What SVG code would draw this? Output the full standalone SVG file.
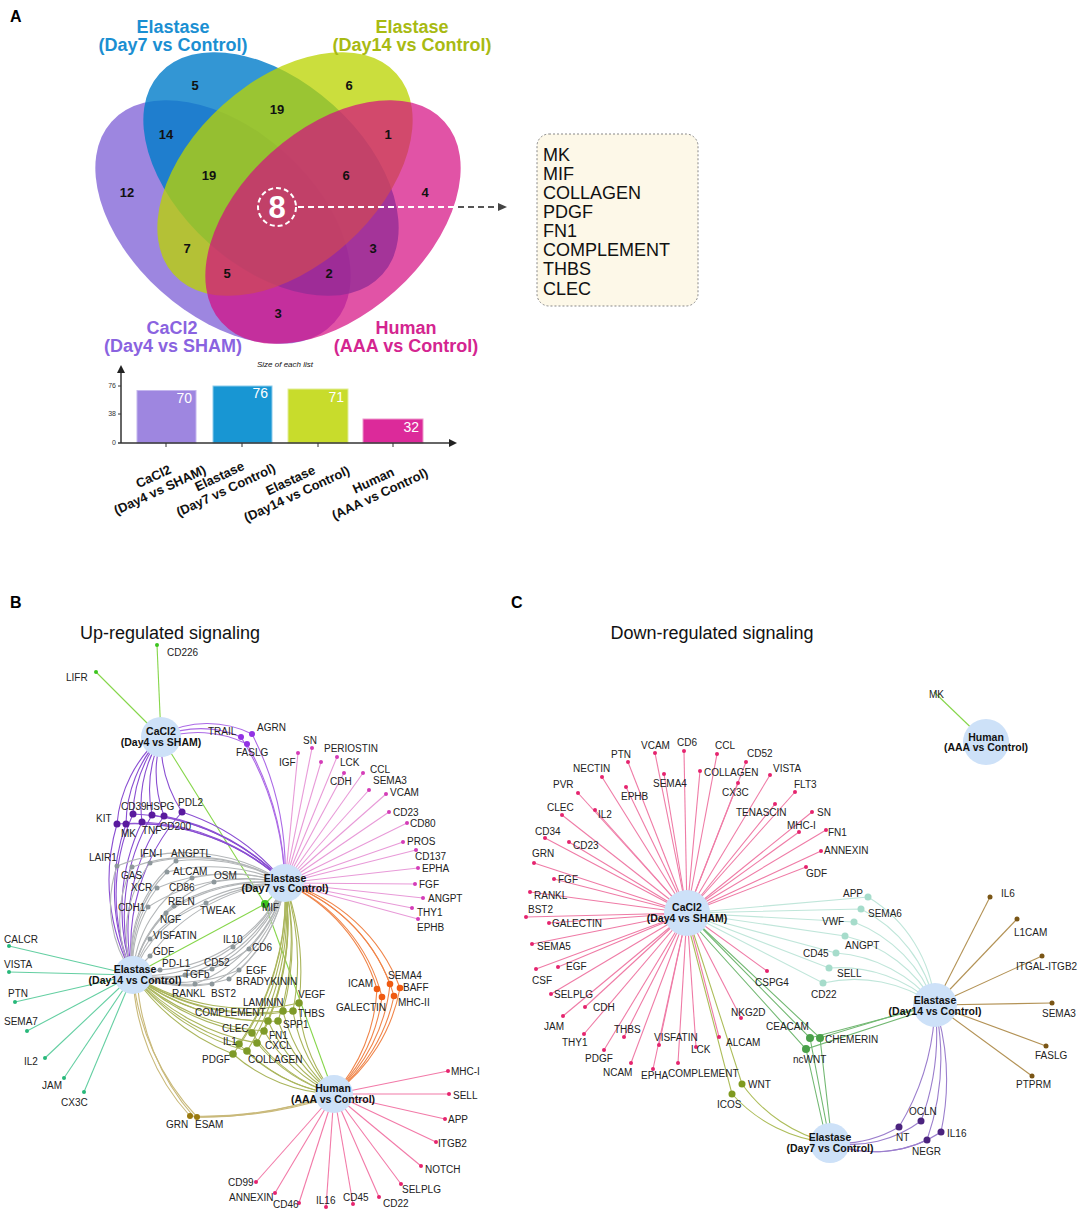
<svg xmlns="http://www.w3.org/2000/svg" width="1084" height="1212" viewBox="0 0 1084 1212">
<defs>
<style>
text{font-family:"Liberation Sans",Arial,Helvetica,sans-serif;font-size:10px;fill:#222}
.pl{font-weight:bold;font-size:16px;fill:#000}
.ttl{font-size:18px;fill:#111;text-anchor:middle}
.vt{font-weight:bold;font-size:18px;text-anchor:middle}
.vt-b{fill:#1b8fd2}.vt-y{fill:#a8ba12}.vt-p{fill:#8a63e0}.vt-m{fill:#d42590}
.vn{font-weight:bold;font-size:13px;text-anchor:middle;fill:#111}
.nl{font-weight:bold;font-size:10.5px;text-anchor:middle;fill:#111}
.bx{font-size:18px;fill:#111}
.bv{font-size:14px;fill:#fff;text-anchor:end}
.bl{font-weight:bold;font-size:13px;text-anchor:middle;fill:#111}
.ax{font-size:7px;fill:#333;text-anchor:end}
.hub{fill:#cde1f8}
#edges path,#edges line{fill:none;stroke-width:1.1}
.e-gr{stroke:#86d64a}.e-pu{stroke:#ac6ae6}.e-pd{stroke:#8a4ed2}.e-gy{stroke:#b3b6b8}.e-pk{stroke:#e89ad8}
.e-ol{stroke:#aab55c}.e-or{stroke:#f0854a}.e-tl{stroke:#64cfa2}.e-gb{stroke:#c9b97a}.e-hp{stroke:#f27aa8}
.e-cp{stroke:#ef7ba6}.e-ct{stroke:#c0e6da}.e-cg{stroke:#72b872}.e-co{stroke:#adbd5a}.e-cv{stroke:#9b7ecd}.e-cb{stroke:#b39255}
.d-gr{fill:#3cc41e}.d-pu{fill:#9232e4}.d-pd{fill:#5a1a9e}.d-gy{fill:#8d979b}.d-pk{fill:#d43cb8}.d-ol{fill:#7e9a28}
.d-or{fill:#ef5a12}.d-tl{fill:#27b87a}.d-gb{fill:#9a7a10}.d-hp{fill:#e6246e}.d-cp{fill:#e5246e}.d-ct{fill:#a6dccb}
.d-cg{fill:#4aa04a}.d-co{fill:#7f9a1e}.d-cv{fill:#4b237e}.d-cb{fill:#7a5616}
</style>
</defs>
<rect width="1084" height="1212" fill="#fff"/>

<!-- ================= PANEL A ================= -->
<text class="pl" x="10" y="22">A</text>
<g id="venn">
<ellipse cx="223" cy="222" rx="150" ry="93" transform="rotate(42 223 222)" fill="#8468d8" fill-opacity="0.8"/>
<ellipse cx="271" cy="174" rx="150" ry="93" transform="rotate(42 271 174)" fill="#007cc9" fill-opacity="0.8"/>
<ellipse cx="285" cy="174" rx="150" ry="93" transform="rotate(-42 285 174)" fill="#bad300" fill-opacity="0.76"/>
<ellipse cx="333" cy="222" rx="150" ry="93" transform="rotate(-42 333 222)" fill="#d40a80" fill-opacity="0.7"/>
</g>
<g id="venn-titles">
<text class="vt vt-b" x="173" y="33">Elastase</text>
<text class="vt vt-b" x="173" y="51">(Day7 vs Control)</text>
<text class="vt vt-y" x="412" y="33">Elastase</text>
<text class="vt vt-y" x="412" y="51">(Day14 vs Control)</text>
<text class="vt vt-p" x="172" y="334">CaCl2</text>
<text class="vt vt-p" x="173" y="352">(Day4 vs SHAM)</text>
<text class="vt vt-m" x="406" y="334">Human</text>
<text class="vt vt-m" x="406" y="352">(AAA vs Control)</text>
</g>
<g id="venn-counts">
<text class="vn" x="195" y="90">5</text>
<text class="vn" x="349" y="90">6</text>
<text class="vn" x="277" y="114">19</text>
<text class="vn" x="166" y="139">14</text>
<text class="vn" x="388" y="139">1</text>
<text class="vn" x="127" y="197">12</text>
<text class="vn" x="209" y="180">19</text>
<text class="vn" x="346" y="180">6</text>
<text class="vn" x="425" y="197">4</text>
<text class="vn" x="187" y="253">7</text>
<text class="vn" x="373" y="253">3</text>
<text class="vn" x="227" y="278">5</text>
<text class="vn" x="329" y="278">2</text>
<text class="vn" x="278" y="318">3</text>
</g>
<g id="venn-core">
<circle cx="277" cy="207" r="19" fill="none" stroke="#fff" stroke-width="2" stroke-dasharray="5 3"/>
<text x="277" y="218" text-anchor="middle" style="font-size:31px;font-weight:bold;fill:#fff">8</text>
<line x1="298" y1="207" x2="456" y2="207" stroke="#fff" stroke-width="2" stroke-dasharray="6 4"/>
<line x1="458" y1="207" x2="500" y2="207" stroke="#555" stroke-width="2" stroke-dasharray="6 4"/>
<polygon points="498,203 507,207 498,211" fill="#444"/>
</g>
<g id="core-list">
<rect x="537" y="134" width="161" height="172" rx="12" fill="#fdf8e8" stroke="#888" stroke-width="1" stroke-dasharray="2 2"/>
<text class="bx" x="543" y="161">MK</text>
<text class="bx" x="543" y="180">MIF</text>
<text class="bx" x="543" y="199">COLLAGEN</text>
<text class="bx" x="543" y="218">PDGF</text>
<text class="bx" x="543" y="237">FN1</text>
<text class="bx" x="543" y="256">COMPLEMENT</text>
<text class="bx" x="543" y="275">THBS</text>
<text class="bx" x="543" y="295">CLEC</text>
</g>
<g id="barchart">
<text x="285" y="367" text-anchor="middle" style="font-size:8px;font-style:italic;fill:#111">Size of each list</text>
<rect x="137" y="390.5" width="59" height="52.5" fill="#9e86e0" stroke="#c4b6ee" stroke-width="1"/>
<rect x="213" y="386" width="59" height="57" fill="#1896d3" stroke="#8ccbeb" stroke-width="1"/>
<rect x="288" y="389" width="60" height="54" fill="#c8dc2c" stroke="#e2ee98" stroke-width="1"/>
<rect x="363" y="419" width="60" height="24" fill="#dc2a9a" stroke="#ee98cc" stroke-width="1"/>
<text class="bv" x="192" y="403">70</text>
<text class="bv" x="268" y="398">76</text>
<text class="bv" x="344" y="402">71</text>
<text class="bv" x="419" y="432">32</text>
<line x1="121" y1="443" x2="121" y2="372" stroke="#333" stroke-width="1.5"/>
<polygon points="117,373 121,365 125,373" fill="#222"/>
<line x1="118" y1="443" x2="450" y2="443" stroke="#333" stroke-width="1.5"/>
<polygon points="449,439 457,443 449,447" fill="#222"/>
<line x1="118" y1="386" x2="121" y2="386" stroke="#333"/>
<line x1="118" y1="414" x2="121" y2="414" stroke="#333"/>
<line x1="166" y1="443" x2="166" y2="447" stroke="#333"/>
<line x1="242" y1="443" x2="242" y2="447" stroke="#333"/>
<line x1="318" y1="443" x2="318" y2="447" stroke="#333"/>
<line x1="393" y1="443" x2="393" y2="447" stroke="#333"/>
<text class="ax" x="116" y="388">76</text>
<text class="ax" x="116" y="416">38</text>
<text class="ax" x="116" y="445">0</text>
<g transform="translate(157,484) rotate(-25)"><text class="bl" x="0" y="-4">CaCl2</text><text class="bl" x="0" y="11">(Day4 vs SHAM)</text></g>
<g transform="translate(223,484) rotate(-25)"><text class="bl" x="0" y="-4">Elastase</text><text class="bl" x="0" y="11">(Day7 vs Control)</text></g>
<g transform="translate(294,488) rotate(-25)"><text class="bl" x="0" y="-4">Elastase</text><text class="bl" x="0" y="11">(Day14 vs Control)</text></g>
<g transform="translate(377,488) rotate(-25)"><text class="bl" x="0" y="-4">Human</text><text class="bl" x="0" y="11">(AAA vs Control)</text></g>
</g>

<!-- ================= PANEL B / C titles ================= -->
<text class="pl" x="10" y="608">B</text>
<text class="pl" x="511" y="608">C</text>
<text class="ttl" x="170" y="639">Up-regulated signaling</text>
<text class="ttl" x="712" y="639">Down-regulated signaling</text>

<!-- ================= CONNECTORS ================= -->
<g id="edges">
<!-- B green -->
<line class="e-gr" x1="161" y1="737" x2="157" y2="645"/>
<line class="e-gr" x1="161" y1="737" x2="96" y2="672"/>
<line class="e-gr" x1="161" y1="737" x2="265" y2="904"/>
<line class="e-gr" x1="265" y1="904" x2="334" y2="1094"/>
<line class="e-gr" x1="133" y1="975" x2="265" y2="904"/>
<line class="e-gr" x1="265" y1="904" x2="285" y2="883"/>
<!-- B purple light (CaCl2-Day7) -->
<path class="e-pu" d="M161 737A100 100 0 0 1 241 737M241 737A300 300 0 0 1 285 883"/>
<path class="e-pu" d="M161 735A100 100 0 0 1 252 734M252 734A300 300 0 0 1 285 883"/>
<path class="e-pu" d="M161 739A110 110 0 0 1 247 744M247 744A300 300 0 0 1 285 883"/>
<!-- B purple dark (CaCl2-Day14-Day7) -->
<path class="e-pd" d="M161 737A130 130 0 0 0 117 824M117 824A200 200 0 0 0 133 975M117 824A220 220 0 0 1 285 883"/>
<path class="e-pd" d="M161 737A130 130 0 0 0 126 824M126 824A200 200 0 0 0 133 975M126 824A220 220 0 0 1 285 883"/>
<path class="e-pd" d="M161 737A130 130 0 0 0 133 814M133 814A200 200 0 0 0 133 975M133 814A220 220 0 0 1 285 883"/>
<path class="e-pd" d="M161 737A130 130 0 0 0 142 822M142 822A200 200 0 0 0 133 975M142 822A220 220 0 0 1 285 883"/>
<path class="e-pd" d="M161 737A130 130 0 0 0 152 815M152 815A200 200 0 0 0 133 975M152 815A220 220 0 0 1 285 883"/>
<path class="e-pd" d="M161 737A130 130 0 0 0 164 816M164 816A200 200 0 0 0 133 975M164 816A220 220 0 0 1 285 883"/>
<path class="e-pd" d="M161 737A130 130 0 0 0 182 812M182 812A200 200 0 0 0 133 975M182 812A220 220 0 0 1 285 883"/>
<!-- B gray upper -->
<path class="e-gy" d="M133 975A120 120 0 0 1 117 866A180 180 0 0 1 285 883"/>
<path class="e-gy" d="M133 975A120 120 0 0 1 132 867A180 180 0 0 1 285 883"/>
<path class="e-gy" d="M133 975A120 120 0 0 1 150 863A180 180 0 0 1 285 883"/>
<path class="e-gy" d="M133 975A120 120 0 0 1 176 861A180 180 0 0 1 285 883"/>
<path class="e-gy" d="M133 975A120 120 0 0 1 167 872A180 180 0 0 1 285 883"/>
<path class="e-gy" d="M133 975A120 120 0 0 1 214 882A180 180 0 0 1 285 883"/>
<path class="e-gy" d="M133 975A120 120 0 0 1 157 888A180 180 0 0 1 285 883"/>
<path class="e-gy" d="M133 975A120 120 0 0 1 192 878A180 180 0 0 1 285 883"/>
<path class="e-gy" d="M133 975A120 120 0 0 1 148 907A180 180 0 0 1 285 883"/>
<path class="e-gy" d="M133 975A120 120 0 0 1 174 906A180 180 0 0 1 285 883"/>
<path class="e-gy" d="M133 975A120 120 0 0 1 166 913A180 180 0 0 1 285 883"/>
<path class="e-gy" d="M133 975A120 120 0 0 1 206 903A180 180 0 0 1 285 883"/>
<path class="e-gy" d="M133 975A120 120 0 0 1 150 939A180 180 0 0 1 285 883"/>
<path class="e-gy" d="M133 975A120 120 0 0 1 150 956A180 180 0 0 1 285 883"/>
<!-- B gray lower -->
<path class="e-gy" d="M133 975A150 150 0 0 0 160 970A150 150 0 0 0 285 883"/>
<path class="e-gy" d="M133 975A150 150 0 0 0 185 975A150 150 0 0 0 285 883"/>
<path class="e-gy" d="M133 975A150 150 0 0 0 212 969A150 150 0 0 0 285 883"/>
<path class="e-gy" d="M133 975A150 150 0 0 0 233 947A150 150 0 0 0 285 883"/>
<path class="e-gy" d="M133 975A150 150 0 0 0 249 949A150 150 0 0 0 285 883"/>
<path class="e-gy" d="M133 975A150 150 0 0 0 239 970A150 150 0 0 0 285 883"/>
<path class="e-gy" d="M133 975A150 150 0 0 0 229 979A150 150 0 0 0 285 883"/>
<path class="e-gy" d="M133 975A150 150 0 0 0 195 984A150 150 0 0 0 285 883"/>
<path class="e-gy" d="M133 975A150 150 0 0 0 212 984A150 150 0 0 0 285 883"/>
<!-- B olive (Day14, Day7, Human) -->
<path class="e-ol" d="M133 975A220 220 0 0 0 299 1003M285 883A260 260 0 0 1 299 1003M299 1003A160 160 0 0 0 334 1094"/>
<path class="e-ol" d="M133 975A220 220 0 0 0 283 1011M285 883A260 260 0 0 1 283 1011M283 1011A160 160 0 0 0 334 1094"/>
<path class="e-ol" d="M133 975A220 220 0 0 0 293 1011M285 883A260 260 0 0 1 293 1011M293 1011A160 160 0 0 0 334 1094"/>
<path class="e-ol" d="M133 975A220 220 0 0 0 268 1021M285 883A260 260 0 0 1 268 1021M268 1021A160 160 0 0 0 334 1094"/>
<path class="e-ol" d="M133 975A220 220 0 0 0 278 1021M285 883A260 260 0 0 1 278 1021M278 1021A160 160 0 0 0 334 1094"/>
<path class="e-ol" d="M133 975A220 220 0 0 0 252 1033M285 883A260 260 0 0 1 252 1033M252 1033A160 160 0 0 0 334 1094"/>
<path class="e-ol" d="M133 975A220 220 0 0 0 264 1031M285 883A260 260 0 0 1 264 1031M264 1031A160 160 0 0 0 334 1094"/>
<path class="e-ol" d="M133 975A220 220 0 0 0 239 1044M285 883A260 260 0 0 1 239 1044M239 1044A160 160 0 0 0 334 1094"/>
<path class="e-ol" d="M133 975A220 220 0 0 0 257 1043M285 883A260 260 0 0 1 257 1043M257 1043A160 160 0 0 0 334 1094"/>
<path class="e-ol" d="M133 975A220 220 0 0 0 233 1054M285 883A260 260 0 0 1 233 1054M233 1054A160 160 0 0 0 334 1094"/>
<path class="e-ol" d="M133 975A220 220 0 0 0 247 1051M285 883A260 260 0 0 1 247 1051M247 1051A160 160 0 0 0 334 1094"/>
<!-- B orange -->
<path class="e-or" d="M285 883A170 170 0 0 1 377 989A170 170 0 0 1 334 1094"/>
<path class="e-or" d="M285 883A170 170 0 0 1 390 984A170 170 0 0 1 334 1094"/>
<path class="e-or" d="M285 883A170 170 0 0 1 400 988A170 170 0 0 1 334 1094"/>
<path class="e-or" d="M285 883A170 170 0 0 1 382 997A170 170 0 0 1 334 1094"/>
<path class="e-or" d="M285 883A170 170 0 0 1 394 996A170 170 0 0 1 334 1094"/>
<!-- B GRN/ESAM -->
<path class="e-gb" d="M133 975A220 220 0 0 0 190 1116A400 400 0 0 0 334 1094"/>
<path class="e-gb" d="M133 975A240 240 0 0 0 197 1117A400 400 0 0 0 334 1094"/>
<path class="e-gb" d="M137 977A230 230 0 0 0 194 1117A420 420 0 0 0 334 1096"/>
<!-- B pink Day7 leaves -->
<line class="e-pk" x1="285" y1="883" x2="298" y2="753"/>
<line class="e-pk" x1="285" y1="883" x2="312" y2="748"/>
<line class="e-pk" x1="285" y1="883" x2="321" y2="762"/>
<line class="e-pk" x1="285" y1="883" x2="337" y2="757"/>
<line class="e-pk" x1="285" y1="883" x2="344" y2="773"/>
<line class="e-pk" x1="285" y1="883" x2="363" y2="773"/>
<line class="e-pk" x1="285" y1="883" x2="369" y2="790"/>
<line class="e-pk" x1="285" y1="883" x2="386" y2="794"/>
<line class="e-pk" x1="285" y1="883" x2="389" y2="812"/>
<line class="e-pk" x1="285" y1="883" x2="407" y2="823"/>
<line class="e-pk" x1="285" y1="883" x2="403" y2="842"/>
<line class="e-pk" x1="285" y1="883" x2="416" y2="850"/>
<line class="e-pk" x1="285" y1="883" x2="418" y2="868"/>
<line class="e-pk" x1="285" y1="883" x2="415" y2="884"/>
<line class="e-pk" x1="285" y1="883" x2="423" y2="898"/>
<line class="e-pk" x1="285" y1="883" x2="412" y2="908"/>
<line class="e-pk" x1="285" y1="883" x2="418" y2="919"/>
<!-- B teal Day14 leaves -->
<line class="e-tl" x1="133" y1="975" x2="9" y2="946"/>
<line class="e-tl" x1="133" y1="975" x2="9" y2="972"/>
<line class="e-tl" x1="133" y1="975" x2="15" y2="1002"/>
<line class="e-tl" x1="133" y1="975" x2="27" y2="1031"/>
<line class="e-tl" x1="133" y1="975" x2="45" y2="1058"/>
<line class="e-tl" x1="133" y1="975" x2="64" y2="1078"/>
<line class="e-tl" x1="133" y1="975" x2="84" y2="1092"/>
<!-- B pink Human leaves -->
<line class="e-hp" x1="334" y1="1094" x2="448" y2="1071"/>
<line class="e-hp" x1="334" y1="1094" x2="449" y2="1094"/>
<line class="e-hp" x1="334" y1="1094" x2="445" y2="1119"/>
<line class="e-hp" x1="334" y1="1094" x2="436" y2="1142"/>
<line class="e-hp" x1="334" y1="1094" x2="421" y2="1166"/>
<line class="e-hp" x1="334" y1="1094" x2="401" y2="1184"/>
<line class="e-hp" x1="334" y1="1094" x2="379" y2="1197"/>
<line class="e-hp" x1="334" y1="1094" x2="353" y2="1204"/>
<line class="e-hp" x1="334" y1="1094" x2="326" y2="1207"/>
<line class="e-hp" x1="334" y1="1094" x2="299" y2="1203"/>
<line class="e-hp" x1="334" y1="1094" x2="275" y2="1193"/>
<line class="e-hp" x1="334" y1="1094" x2="256" y2="1182"/>

<!-- C pink CaCl2 leaves -->
<line class="e-cp" x1="687" y1="913" x2="655" y2="753"/>
<line class="e-cp" x1="687" y1="913" x2="684" y2="751"/>
<line class="e-cp" x1="687" y1="913" x2="717" y2="754"/>
<line class="e-cp" x1="687" y1="913" x2="746" y2="762"/>
<line class="e-cp" x1="687" y1="913" x2="628" y2="762"/>
<line class="e-cp" x1="687" y1="913" x2="602" y2="777"/>
<line class="e-cp" x1="687" y1="913" x2="664" y2="774"/>
<line class="e-cp" x1="687" y1="913" x2="700" y2="771"/>
<line class="e-cp" x1="687" y1="913" x2="770" y2="775"/>
<line class="e-cp" x1="687" y1="913" x2="578" y2="793"/>
<line class="e-cp" x1="687" y1="913" x2="626" y2="787"/>
<line class="e-cp" x1="687" y1="913" x2="738" y2="783"/>
<line class="e-cp" x1="687" y1="913" x2="795" y2="792"/>
<line class="e-cp" x1="687" y1="913" x2="562" y2="815"/>
<line class="e-cp" x1="687" y1="913" x2="595" y2="810"/>
<line class="e-cp" x1="687" y1="913" x2="775" y2="804"/>
<line class="e-cp" x1="687" y1="913" x2="812" y2="812"/>
<line class="e-cp" x1="687" y1="913" x2="799" y2="832"/>
<line class="e-cp" x1="687" y1="913" x2="826" y2="830"/>
<line class="e-cp" x1="687" y1="913" x2="821" y2="851"/>
<line class="e-cp" x1="687" y1="913" x2="806" y2="867"/>
<line class="e-cp" x1="687" y1="913" x2="545" y2="838"/>
<line class="e-cp" x1="687" y1="913" x2="569" y2="842"/>
<line class="e-cp" x1="687" y1="913" x2="534" y2="863"/>
<line class="e-cp" x1="687" y1="913" x2="554" y2="879"/>
<line class="e-cp" x1="687" y1="913" x2="530" y2="892"/>
<line class="e-cp" x1="687" y1="913" x2="526" y2="917"/>
<line class="e-cp" x1="687" y1="913" x2="549" y2="923"/>
<line class="e-cp" x1="687" y1="913" x2="532" y2="944"/>
<line class="e-cp" x1="687" y1="913" x2="558" y2="967"/>
<line class="e-cp" x1="687" y1="913" x2="536" y2="969"/>
<line class="e-cp" x1="687" y1="913" x2="767" y2="971"/>
<line class="e-cp" x1="687" y1="913" x2="551" y2="994"/>
<line class="e-cp" x1="687" y1="913" x2="585" y2="1007"/>
<line class="e-cp" x1="687" y1="913" x2="563" y2="1016"/>
<line class="e-cp" x1="687" y1="913" x2="584" y2="1034"/>
<line class="e-cp" x1="687" y1="913" x2="624" y2="1037"/>
<line class="e-cp" x1="687" y1="913" x2="604" y2="1050"/>
<line class="e-cp" x1="687" y1="913" x2="659" y2="1045"/>
<line class="e-cp" x1="687" y1="913" x2="696" y2="1047"/>
<line class="e-cp" x1="687" y1="913" x2="719" y2="1037"/>
<line class="e-cp" x1="687" y1="913" x2="741" y2="1018"/>
<line class="e-cp" x1="687" y1="913" x2="631" y2="1063"/>
<line class="e-cp" x1="687" y1="913" x2="653" y2="1069"/>
<line class="e-cp" x1="687" y1="913" x2="678" y2="1063"/>
<!-- C teal -->
<path class="e-ct" d="M687 913L868 897A140 140 0 0 1 935 1005"/>
<path class="e-ct" d="M687 913L861 909A140 140 0 0 1 935 1005"/>
<path class="e-ct" d="M687 913L854 922A140 140 0 0 1 935 1005"/>
<path class="e-ct" d="M687 913L845 936A140 140 0 0 1 935 1005"/>
<path class="e-ct" d="M687 913L836 953A140 140 0 0 1 935 1005"/>
<path class="e-ct" d="M687 913L829 968A140 140 0 0 1 935 1005"/>
<path class="e-ct" d="M687 913L823 983A140 140 0 0 1 935 1005"/>
<!-- C green -->
<path class="e-cg" d="M687 913L810 1038L935 1005M810 1038L830 1143"/>
<path class="e-cg" d="M689 915L820 1038L935 1003M820 1038L832 1143"/>
<path class="e-cg" d="M685 915L806 1049L935 1007M806 1049L827 1143"/>
<!-- C olive -->
<path class="e-co" d="M687 913L742 1084A150 150 0 0 0 830 1143"/>
<path class="e-co" d="M685 913L732 1094A150 150 0 0 0 830 1143"/>
<!-- C violet -->
<path class="e-cv" d="M935 1005A250 250 0 0 1 921 1121A120 120 0 0 1 830 1143"/>
<path class="e-cv" d="M935 1005A250 250 0 0 1 899 1127A120 120 0 0 1 830 1143"/>
<path class="e-cv" d="M935 1005A250 250 0 0 1 941 1132A120 120 0 0 1 830 1143"/>
<path class="e-cv" d="M935 1005A250 250 0 0 1 927 1140A120 120 0 0 1 830 1143"/>
<!-- C brown -->
<line class="e-cb" x1="935" y1="1005" x2="990" y2="897"/>
<line class="e-cb" x1="935" y1="1005" x2="1017" y2="919"/>
<line class="e-cb" x1="935" y1="1005" x2="1042" y2="956"/>
<line class="e-cb" x1="935" y1="1005" x2="1052" y2="1003"/>
<line class="e-cb" x1="935" y1="1005" x2="1046" y2="1046"/>
<line class="e-cb" x1="935" y1="1005" x2="1032" y2="1076"/>
<!-- C human MK -->
<line class="e-gr" x1="986" y1="742" x2="934" y2="692"/>
</g>

<!-- ================= PANEL B NODES ================= -->
<g id="b-cacl2"><circle class="hub" cx="161" cy="737" r="20"/><text class="nl" x="161" y="735">CaCl2</text><text class="nl" x="161" y="746">(Day4 vs SHAM)</text></g>
<g id="b-day7"><circle class="hub" cx="285" cy="883" r="19"/><text class="nl" x="285" y="882">Elastase</text><text class="nl" x="285" y="892">(Day7 vs Control)</text></g>
<g id="b-day14"><circle class="hub" cx="133" cy="975" r="19"/><text class="nl" x="135" y="973">Elastase</text><text class="nl" x="135" y="984">(Day14 vs Control)</text></g>
<g id="b-human"><circle class="hub" cx="334" cy="1094" r="19"/><text class="nl" x="333" y="1092">Human</text><text class="nl" x="333" y="1103">(AAA vs Control)</text></g>

<g id="b-green">
<g id="b-cd226"><circle class="d-gr" cx="157" cy="645" r="2"/><text x="167" y="656">CD226</text></g>
<g id="b-lifr"><circle class="d-gr" cx="96" cy="672" r="2"/><text x="66" y="681">LIFR</text></g>
<g id="b-mif"><circle class="d-gr" cx="265" cy="904" r="4"/><text x="262" y="911">MIF</text></g>
</g>
<g id="b-purple">
<g id="b-trail"><circle class="d-pu" cx="241" cy="737" r="3"/><text x="208" y="735">TRAIL</text></g>
<g id="b-agrn"><circle class="d-pu" cx="252" cy="734" r="3"/><text x="257" y="731">AGRN</text></g>
<g id="b-faslg"><circle class="d-pu" cx="247" cy="744" r="3"/><text x="236" y="756">FASLG</text></g>
<g id="b-kit"><circle class="d-pd" cx="117" cy="824" r="3.5"/><text x="96" y="822">KIT</text></g>
<g id="b-mk"><circle class="d-pd" cx="126" cy="824" r="3.5"/><text x="121" y="837">MK</text></g>
<g id="b-cd39"><circle class="d-pd" cx="133" cy="814" r="3.5"/><text x="121" y="810">CD39</text></g>
<g id="b-tnf"><circle class="d-pd" cx="142" cy="822" r="3.5"/><text x="142" y="834">TNF</text></g>
<g id="b-hspg"><circle class="d-pd" cx="152" cy="815" r="3.5"/><text x="146" y="810">HSPG</text></g>
<g id="b-cd200"><circle class="d-pd" cx="164" cy="816" r="3.5"/><text x="160" y="830">CD200</text></g>
<g id="b-pdl2"><circle class="d-pd" cx="182" cy="812" r="3.5"/><text x="178" y="806">PDL2</text></g>
</g>
<g id="b-gray">
<g id="b-lair1"><circle class="d-gy" cx="117" cy="866" r="2.5"/><text x="89" y="861">LAIR1</text></g>
<g id="b-gas"><circle class="d-gy" cx="132" cy="867" r="2.5"/><text x="121" y="879">GAS</text></g>
<g id="b-ifn"><circle class="d-gy" cx="150" cy="863" r="2.5"/><text x="140" y="857">IFN-I</text></g>
<g id="b-angptl"><circle class="d-gy" cx="176" cy="861" r="2.5"/><text x="171" y="857">ANGPTL</text></g>
<g id="b-alcam"><circle class="d-gy" cx="167" cy="872" r="2.5"/><text x="173" y="875">ALCAM</text></g>
<g id="b-osm"><circle class="d-gy" cx="214" cy="882" r="2.5"/><text x="214" y="879">OSM</text></g>
<g id="b-xcr"><circle class="d-gy" cx="157" cy="888" r="2.5"/><text x="131" y="891">XCR</text></g>
<g id="b-cd86"><circle class="d-gy" cx="192" cy="878" r="2.5"/><text x="169" y="891">CD86</text></g>
<g id="b-cdh1"><circle class="d-gy" cx="148" cy="907" r="2.5"/><text x="118" y="911">CDH1</text></g>
<g id="b-reln"><circle class="d-gy" cx="174" cy="906" r="2.5"/><text x="168" y="905">RELN</text></g>
<g id="b-ngf"><circle class="d-gy" cx="166" cy="913" r="2.5"/><text x="160" y="923">NGF</text></g>
<g id="b-tweak"><circle class="d-gy" cx="206" cy="903" r="2.5"/><text x="200" y="914">TWEAK</text></g>
<g id="b-visfatin"><circle class="d-gy" cx="150" cy="939" r="2.5"/><text x="153" y="939">VISFATIN</text></g>
<g id="b-gdf"><circle class="d-gy" cx="150" cy="956" r="2.5"/><text x="153" y="955">GDF</text></g>
<g id="b-il10"><circle class="d-gy" cx="233" cy="947" r="2.5"/><text x="223" y="943">IL10</text></g>
<g id="b-cd6"><circle class="d-gy" cx="249" cy="949" r="2.5"/><text x="252" y="951">CD6</text></g>
<g id="b-pdl1"><circle class="d-gy" cx="160" cy="970" r="2.5"/><text x="162" y="967">PD-L1</text></g>
<g id="b-cd52"><circle class="d-gy" cx="212" cy="969" r="2.5"/><text x="204" y="966">CD52</text></g>
<g id="b-tgfb"><circle class="d-gy" cx="185" cy="975" r="2.5"/><text x="184" y="978">TGFb</text></g>
<g id="b-egf"><circle class="d-gy" cx="239" cy="970" r="2.5"/><text x="246" y="974">EGF</text></g>
<g id="b-brady"><circle class="d-gy" cx="229" cy="979" r="2.5"/><text x="236" y="985">BRADYKININ</text></g>
<g id="b-rankl"><circle class="d-gy" cx="195" cy="984" r="2.5"/><text x="172" y="997">RANKL</text></g>
<g id="b-bst2"><circle class="d-gy" cx="212" cy="984" r="2.5"/><text x="211" y="997">BST2</text></g>
</g>
<g id="b-olive">
<g id="b-vegf"><circle class="d-ol" cx="299" cy="1003" r="3.8"/><text x="298" y="998">VEGF</text></g>
<g id="b-laminin"><circle class="d-ol" cx="283" cy="1011" r="3.8"/><text x="243" y="1006">LAMININ</text></g>
<g id="b-thbs"><circle class="d-ol" cx="293" cy="1011" r="3.8"/><text x="298" y="1017">THBS</text></g>
<g id="b-complement"><circle class="d-ol" cx="268" cy="1021" r="3.8"/><text x="195" y="1016">COMPLEMENT</text></g>
<g id="b-spp1"><circle class="d-ol" cx="278" cy="1021" r="3.8"/><text x="283" y="1028">SPP1</text></g>
<g id="b-clec"><circle class="d-ol" cx="252" cy="1033" r="3.8"/><text x="222" y="1032">CLEC</text></g>
<g id="b-fn1"><circle class="d-ol" cx="264" cy="1031" r="3.8"/><text x="269" y="1039">FN1</text></g>
<g id="b-il1"><circle class="d-ol" cx="239" cy="1044" r="3.8"/><text x="223" y="1045">IL1</text></g>
<g id="b-cxcl"><circle class="d-ol" cx="257" cy="1043" r="3.8"/><text x="265" y="1049">CXCL</text></g>
<g id="b-pdgf"><circle class="d-ol" cx="233" cy="1054" r="3.8"/><text x="202" y="1063">PDGF</text></g>
<g id="b-collagen"><circle class="d-ol" cx="247" cy="1051" r="3.8"/><text x="248" y="1063">COLLAGEN</text></g>
</g>
<g id="b-orange">
<g id="b-icam"><circle class="d-or" cx="377" cy="989" r="3.3"/><text x="348" y="987">ICAM</text></g>
<g id="b-sema4"><circle class="d-or" cx="390" cy="984" r="3.3"/><text x="388" y="979">SEMA4</text></g>
<g id="b-baff"><circle class="d-or" cx="400" cy="988" r="3.3"/><text x="403" y="991">BAFF</text></g>
<g id="b-galectin"><circle class="d-or" cx="382" cy="997" r="3.3"/><text x="336" y="1011">GALECTIN</text></g>
<g id="b-mhcii"><circle class="d-or" cx="394" cy="996" r="3.3"/><text x="398" y="1006">MHC-II</text></g>
</g>
<g id="b-tan">
<g id="b-grn"><circle class="d-gb" cx="190" cy="1116" r="3"/><text x="166" y="1128">GRN</text></g>
<g id="b-esam"><circle class="d-gb" cx="197" cy="1117" r="3"/><text x="195" y="1128">ESAM</text></g>
</g>
<g id="b-day7-leaves">
<g id="b-igf"><circle class="d-pk" cx="298" cy="753" r="2"/><text x="279" y="766">IGF</text></g>
<g id="b-sn"><circle class="d-pk" cx="312" cy="748" r="2"/><text x="303" y="744">SN</text></g>
<g id="b-periostin"><circle class="d-pk" cx="321" cy="762" r="2"/><text x="324" y="752">PERIOSTIN</text></g>
<g id="b-lck"><circle class="d-pk" cx="337" cy="757" r="2"/><text x="340" y="766">LCK</text></g>
<g id="b-cdh"><circle class="d-pk" cx="344" cy="773" r="2"/><text x="330" y="785">CDH</text></g>
<g id="b-ccl"><circle class="d-pk" cx="363" cy="773" r="2"/><text x="370" y="773">CCL</text></g>
<g id="b-sema3"><circle class="d-pk" cx="369" cy="790" r="2"/><text x="373" y="784">SEMA3</text></g>
<g id="b-vcam"><circle class="d-pk" cx="386" cy="794" r="2"/><text x="390" y="796">VCAM</text></g>
<g id="b-cd23"><circle class="d-pk" cx="389" cy="812" r="2"/><text x="393" y="816">CD23</text></g>
<g id="b-cd80"><circle class="d-pk" cx="407" cy="823" r="2"/><text x="410" y="827">CD80</text></g>
<g id="b-pros"><circle class="d-pk" cx="403" cy="842" r="2"/><text x="407" y="845">PROS</text></g>
<g id="b-cd137"><circle class="d-pk" cx="416" cy="850" r="2"/><text x="415" y="860">CD137</text></g>
<g id="b-epha"><circle class="d-pk" cx="418" cy="868" r="2"/><text x="422" y="872">EPHA</text></g>
<g id="b-fgf"><circle class="d-pk" cx="415" cy="884" r="2"/><text x="419" y="888">FGF</text></g>
<g id="b-angpt"><circle class="d-pk" cx="423" cy="898" r="2"/><text x="428" y="902">ANGPT</text></g>
<g id="b-thy1"><circle class="d-pk" cx="412" cy="908" r="2"/><text x="417" y="916">THY1</text></g>
<g id="b-ephb"><circle class="d-pk" cx="418" cy="919" r="2"/><text x="417" y="931">EPHB</text></g>
</g>
<g id="b-day14-leaves">
<g id="b-calcr"><circle class="d-tl" cx="9" cy="946" r="2"/><text x="4" y="943">CALCR</text></g>
<g id="b-vista"><circle class="d-tl" cx="9" cy="972" r="2"/><text x="4" y="968">VISTA</text></g>
<g id="b-ptn"><circle class="d-tl" cx="15" cy="1002" r="2"/><text x="8" y="997">PTN</text></g>
<g id="b-sema7"><circle class="d-tl" cx="27" cy="1031" r="2"/><text x="4" y="1025">SEMA7</text></g>
<g id="b-il2"><circle class="d-tl" cx="45" cy="1058" r="2"/><text x="24" y="1065">IL2</text></g>
<g id="b-jam"><circle class="d-tl" cx="64" cy="1078" r="2"/><text x="42" y="1089">JAM</text></g>
<g id="b-cx3c"><circle class="d-tl" cx="84" cy="1092" r="2"/><text x="61" y="1106">CX3C</text></g>
</g>
<g id="b-human-leaves">
<g id="b-mhci"><circle class="d-hp" cx="448" cy="1071" r="2"/><text x="451" y="1075">MHC-I</text></g>
<g id="b-sell"><circle class="d-hp" cx="449" cy="1094" r="2"/><text x="453" y="1099">SELL</text></g>
<g id="b-app"><circle class="d-hp" cx="445" cy="1119" r="2"/><text x="448" y="1123">APP</text></g>
<g id="b-itgb2"><circle class="d-hp" cx="436" cy="1142" r="2"/><text x="438" y="1147">ITGB2</text></g>
<g id="b-notch"><circle class="d-hp" cx="421" cy="1166" r="2"/><text x="425" y="1173">NOTCH</text></g>
<g id="b-selplg"><circle class="d-hp" cx="401" cy="1184" r="2"/><text x="402" y="1193">SELPLG</text></g>
<g id="b-cd22"><circle class="d-hp" cx="379" cy="1197" r="2"/><text x="383" y="1207">CD22</text></g>
<g id="b-cd45"><circle class="d-hp" cx="353" cy="1204" r="2"/><text x="343" y="1201">CD45</text></g>
<g id="b-il16"><circle class="d-hp" cx="326" cy="1207" r="2"/><text x="316" y="1204">IL16</text></g>
<g id="b-cd46"><circle class="d-hp" cx="299" cy="1203" r="2"/><text x="273" y="1208">CD46</text></g>
<g id="b-annexin"><circle class="d-hp" cx="275" cy="1193" r="2"/><text x="229" y="1201">ANNEXIN</text></g>
<g id="b-cd99"><circle class="d-hp" cx="256" cy="1182" r="2"/><text x="228" y="1186">CD99</text></g>
</g>

<!-- ================= PANEL C NODES ================= -->
<g id="c-cacl2"><circle class="hub" cx="687" cy="913" r="23"/><text class="nl" x="687" y="911">CaCl2</text><text class="nl" x="687" y="922">(Day4 vs SHAM)</text></g>
<g id="c-day14"><circle class="hub" cx="935" cy="1005" r="22"/><text class="nl" x="935" y="1004">Elastase</text><text class="nl" x="935" y="1015">(Day14 vs Control)</text></g>
<g id="c-day7"><circle class="hub" cx="830" cy="1143" r="20"/><text class="nl" x="830" y="1141">Elastase</text><text class="nl" x="830" y="1152">(Day7 vs Control)</text></g>
<g id="c-human"><circle class="hub" cx="986" cy="742" r="23"/><text class="nl" x="986" y="741">Human</text><text class="nl" x="986" y="751">(AAA vs Control)</text></g>

<g id="c-cacl2-leaves">
<g id="c-vcam"><circle class="d-cp" cx="655" cy="753" r="2"/><text x="641" y="749">VCAM</text></g>
<g id="c-cd6"><circle class="d-cp" cx="684" cy="751" r="2"/><text x="677" y="746">CD6</text></g>
<g id="c-ccl"><circle class="d-cp" cx="717" cy="754" r="2"/><text x="715" y="749">CCL</text></g>
<g id="c-cd52"><circle class="d-cp" cx="746" cy="762" r="2"/><text x="747" y="757">CD52</text></g>
<g id="c-ptn"><circle class="d-cp" cx="628" cy="762" r="2"/><text x="611" y="758">PTN</text></g>
<g id="c-nectin"><circle class="d-cp" cx="602" cy="777" r="2"/><text x="573" y="772">NECTIN</text></g>
<g id="c-sema4"><circle class="d-cp" cx="664" cy="774" r="2"/><text x="653" y="787">SEMA4</text></g>
<g id="c-collagen"><circle class="d-cp" cx="700" cy="771" r="2"/><text x="704" y="776">COLLAGEN</text></g>
<g id="c-vista"><circle class="d-cp" cx="770" cy="775" r="2"/><text x="773" y="772">VISTA</text></g>
<g id="c-pvr"><circle class="d-cp" cx="578" cy="793" r="2"/><text x="553" y="788">PVR</text></g>
<g id="c-ephb"><circle class="d-cp" cx="626" cy="787" r="2"/><text x="621" y="800">EPHB</text></g>
<g id="c-cx3c"><circle class="d-cp" cx="738" cy="783" r="2"/><text x="722" y="796">CX3C</text></g>
<g id="c-flt3"><circle class="d-cp" cx="795" cy="792" r="2"/><text x="794" y="788">FLT3</text></g>
<g id="c-clec"><circle class="d-cp" cx="562" cy="815" r="2"/><text x="547" y="811">CLEC</text></g>
<g id="c-il2"><circle class="d-cp" cx="595" cy="810" r="2"/><text x="598" y="818">IL2</text></g>
<g id="c-tenascin"><circle class="d-cp" cx="775" cy="804" r="2"/><text x="736" y="816">TENASCIN</text></g>
<g id="c-sn"><circle class="d-cp" cx="812" cy="812" r="2"/><text x="817" y="816">SN</text></g>
<g id="c-mhci"><circle class="d-cp" cx="799" cy="832" r="2"/><text x="787" y="829">MHC-I</text></g>
<g id="c-fn1"><circle class="d-cp" cx="826" cy="830" r="2"/><text x="828" y="836">FN1</text></g>
<g id="c-annexin"><circle class="d-cp" cx="821" cy="851" r="2"/><text x="824" y="854">ANNEXIN</text></g>
<g id="c-gdf"><circle class="d-cp" cx="806" cy="867" r="2"/><text x="806" y="877">GDF</text></g>
<g id="c-cd34"><circle class="d-cp" cx="545" cy="838" r="2"/><text x="535" y="835">CD34</text></g>
<g id="c-cd23"><circle class="d-cp" cx="569" cy="842" r="2"/><text x="573" y="849">CD23</text></g>
<g id="c-grn"><circle class="d-cp" cx="534" cy="863" r="2"/><text x="532" y="857">GRN</text></g>
<g id="c-fgf"><circle class="d-cp" cx="554" cy="879" r="2"/><text x="558" y="883">FGF</text></g>
<g id="c-rankl"><circle class="d-cp" cx="530" cy="892" r="2"/><text x="534" y="899">RANKL</text></g>
<g id="c-bst2"><circle class="d-cp" cx="526" cy="917" r="2"/><text x="528" y="913">BST2</text></g>
<g id="c-galectin"><circle class="d-cp" cx="549" cy="923" r="2"/><text x="552" y="927">GALECTIN</text></g>
<g id="c-sema5"><circle class="d-cp" cx="532" cy="944" r="2"/><text x="537" y="950">SEMA5</text></g>
<g id="c-egf"><circle class="d-cp" cx="558" cy="967" r="2"/><text x="566" y="970">EGF</text></g>
<g id="c-csf"><circle class="d-cp" cx="536" cy="969" r="2"/><text x="532" y="984">CSF</text></g>
<g id="c-cspg4"><circle class="d-cp" cx="767" cy="971" r="2"/><text x="755" y="986">CSPG4</text></g>
<g id="c-selplg"><circle class="d-cp" cx="551" cy="994" r="2"/><text x="554" y="998">SELPLG</text></g>
<g id="c-cdh"><circle class="d-cp" cx="585" cy="1007" r="2"/><text x="593" y="1011">CDH</text></g>
<g id="c-jam"><circle class="d-cp" cx="563" cy="1016" r="2"/><text x="544" y="1030">JAM</text></g>
<g id="c-thy1"><circle class="d-cp" cx="584" cy="1034" r="2"/><text x="562" y="1046">THY1</text></g>
<g id="c-thbs"><circle class="d-cp" cx="624" cy="1037" r="2"/><text x="614" y="1033">THBS</text></g>
<g id="c-pdgf"><circle class="d-cp" cx="604" cy="1050" r="2"/><text x="585" y="1062">PDGF</text></g>
<g id="c-visfatin"><circle class="d-cp" cx="659" cy="1045" r="2"/><text x="654" y="1041">VISFATIN</text></g>
<g id="c-lck"><circle class="d-cp" cx="696" cy="1047" r="2"/><text x="691" y="1053">LCK</text></g>
<g id="c-alcam"><circle class="d-cp" cx="719" cy="1037" r="2"/><text x="726" y="1046">ALCAM</text></g>
<g id="c-nkg2d"><circle class="d-cp" cx="741" cy="1018" r="2"/><text x="731" y="1016">NKG2D</text></g>
<g id="c-ncam"><circle class="d-cp" cx="631" cy="1063" r="2"/><text x="603" y="1076">NCAM</text></g>
<g id="c-epha"><circle class="d-cp" cx="653" cy="1069" r="2"/><text x="641" y="1079">EPHA</text></g>
<g id="c-complement"><circle class="d-cp" cx="678" cy="1063" r="2"/><text x="668" y="1077">COMPLEMENT</text></g>
</g>
<g id="c-teal">
<g id="c-app"><circle class="d-ct" cx="868" cy="897" r="3.5"/><text x="843" y="897">APP</text></g>
<g id="c-sema6"><circle class="d-ct" cx="861" cy="909" r="3.5"/><text x="868" y="917">SEMA6</text></g>
<g id="c-vwf"><circle class="d-ct" cx="854" cy="922" r="3.5"/><text x="822" y="925">VWF</text></g>
<g id="c-angpt"><circle class="d-ct" cx="845" cy="936" r="3.5"/><text x="845" y="949">ANGPT</text></g>
<g id="c-cd45"><circle class="d-ct" cx="836" cy="953" r="3.5"/><text x="803" y="957">CD45</text></g>
<g id="c-sell"><circle class="d-ct" cx="829" cy="968" r="3.5"/><text x="837" y="977">SELL</text></g>
<g id="c-cd22"><circle class="d-ct" cx="823" cy="983" r="3.5"/><text x="811" y="998">CD22</text></g>
</g>
<g id="c-green">
<g id="c-ceacam"><circle class="d-cg" cx="810" cy="1038" r="4"/><text x="766" y="1030">CEACAM</text></g>
<g id="c-chemerin"><circle class="d-cg" cx="820" cy="1038" r="4"/><text x="825" y="1043">CHEMERIN</text></g>
<g id="c-ncwnt"><circle class="d-cg" cx="806" cy="1049" r="4"/><text x="793" y="1063">ncWNT</text></g>
</g>
<g id="c-olive">
<g id="c-wnt"><circle class="d-co" cx="742" cy="1084" r="3.5"/><text x="748" y="1088">WNT</text></g>
<g id="c-icos"><circle class="d-co" cx="732" cy="1094" r="3.5"/><text x="717" y="1108">ICOS</text></g>
</g>
<g id="c-violet">
<g id="c-ocln"><circle class="d-cv" cx="921" cy="1121" r="3.5"/><text x="909" y="1115">OCLN</text></g>
<g id="c-nt"><circle class="d-cv" cx="899" cy="1127" r="3.5"/><text x="896" y="1141">NT</text></g>
<g id="c-il16"><circle class="d-cv" cx="941" cy="1132" r="3.5"/><text x="947" y="1137">IL16</text></g>
<g id="c-negr"><circle class="d-cv" cx="927" cy="1140" r="3.5"/><text x="912" y="1155">NEGR</text></g>
</g>
<g id="c-brown">
<g id="c-il6"><circle class="d-cb" cx="990" cy="897" r="2.5"/><text x="1001" y="897">IL6</text></g>
<g id="c-l1cam"><circle class="d-cb" cx="1017" cy="919" r="2.5"/><text x="1014" y="936">L1CAM</text></g>
<g id="c-itgal"><circle class="d-cb" cx="1042" cy="956" r="2.5"/><text x="1016" y="970">ITGAL-ITGB2</text></g>
<g id="c-sema3"><circle class="d-cb" cx="1052" cy="1003" r="2.5"/><text x="1042" y="1017">SEMA3</text></g>
<g id="c-faslg"><circle class="d-cb" cx="1046" cy="1046" r="2.5"/><text x="1035" y="1059">FASLG</text></g>
<g id="c-ptprm"><circle class="d-cb" cx="1032" cy="1076" r="2.5"/><text x="1016" y="1088">PTPRM</text></g>
</g>
<g id="c-mk"><text x="929" y="698">MK</text></g>
</svg>
